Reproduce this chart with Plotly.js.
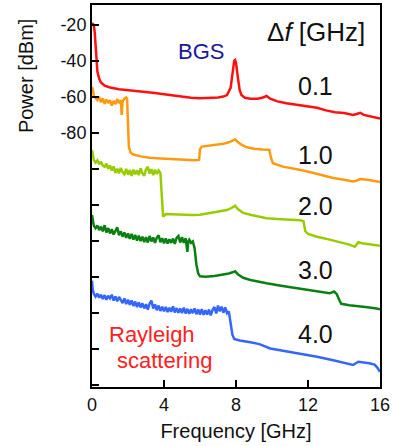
<!DOCTYPE html>
<html>
<head>
<meta charset="utf-8">
<script src="https://cdn.plot.ly/plotly-3.0.1.min.js"></script>
<style>html,body{margin:0;padding:0;background:#fff;}#chart{width:393px;height:446px;}</style>
</head>
<body>
<div id="chart"></div>
<script>
// Frequency [GHz] and Power [dBm] for each spacing Δf
const freq01 = [0,0.05,0.1,0.15,0.2,0.25,0.3,0.4,0.5,0.7,1.0,1.5,2.0,2.5,3.0,3.5,4.0,4.5,5.0,5.5,6.0,6.5,7.0,7.3,7.5,7.7,7.8,7.9,7.95,8.0,8.1,8.2,8.3,8.5,8.8,9.2,9.5,9.7,9.9,10.3,10.8,11.5,12,12.5,13,13.5,14,14.3,14.5,14.7,14.9,15.1,15.5,16];
const pow01 = [-19,-19.5,-20,-24,-33,-41,-46,-50,-52,-53.8,-54.8,-55.8,-56.2,-56.8,-57.3,-57.8,-58.5,-59.2,-60.2,-60.5,-60.8,-60.6,-60.3,-59.8,-59,-55,-47,-40,-39.5,-41,-49,-56,-59,-60.5,-61,-61,-60.3,-59.5,-61,-62.5,-63.5,-64.5,-65,-66,-67.5,-68.5,-69,-69.8,-70,-69.5,-68.8,-70,-71,-72];

const freq10 = [0,0.05,0.1,0.2,0.3,0.4,0.5,0.6,0.7,0.8,0.9,1.0,1.1,1.2,1.3,1.4,1.5,1.6,1.65,1.7,1.8,1.9,1.95,2.0,2.05,2.15,2.3,2.7,3.2,3.8,4.5,5.2,5.7,5.95,6.0,6.1,6.5,6.9,7.3,7.6,7.8,7.95,8.1,8.3,8.6,9.0,9.5,9.85,9.95,10.05,10.6,11.1,11.6,12.2,13.0,13.4,14.0,14.5,14.7,14.9,15.3,15.8,16];
const pow10 = [-54.5,-56,-59.5,-60.5,-61.8,-60,-63,-60.8,-63.8,-61.5,-63.4,-61.8,-64.8,-62.2,-64,-61.2,-63.5,-61.8,-70,-62.5,-61,-60.3,-61,-75,-88,-91,-92,-93,-93.8,-94.2,-94.6,-95,-95.2,-95,-89,-87.6,-87.2,-86.7,-86,-85.2,-84.3,-83.6,-85,-86.5,-88,-88.8,-89.2,-89.4,-94,-96.8,-98.7,-99.6,-100.6,-102,-104,-105,-106,-107,-106.5,-105.6,-106,-107,-107.2];

const freq20 = [0,0.05,0.1,0.2,0.3,0.4,0.5,0.6,0.7,0.8,0.9,1.0,1.1,1.2,1.3,1.4,1.5,1.6,1.7,1.8,1.9,2.0,2.1,2.2,2.3,2.4,2.5,2.6,2.7,2.8,2.9,3.0,3.1,3.2,3.3,3.4,3.5,3.6,3.7,3.8,3.85,3.9,3.95,4.1,4.5,5.0,5.5,6.0,6.5,7.0,7.5,7.8,7.95,8.1,8.4,8.8,9.3,9.7,10.3,11.0,11.55,11.75,11.85,12.0,12.5,13.2,13.8,14.3,14.6,14.8,15.0,15.4,15.8,16];
const pow20 = [-89.5,-93,-95,-96.5,-95.2,-97.4,-96,-98.2,-98.8,-97,-100,-98,-100.9,-98.6,-102.2,-99.8,-102.4,-99.4,-101.9,-103,-100,-103.2,-100.6,-103.9,-100.4,-102.9,-100.8,-103.4,-99.6,-102.4,-103.8,-100.2,-98.8,-102.6,-100.1,-103.4,-100.4,-102.8,-100.8,-102.2,-110,-122,-126.5,-125,-125.2,-125.4,-125.6,-125.4,-124.6,-123.8,-122.8,-121.4,-120.4,-122.2,-124.4,-125.4,-126.5,-127.3,-127.8,-128.1,-128.4,-129,-134.5,-136,-137.6,-139.2,-140.6,-142,-143.2,-140.6,-141.2,-141.8,-142.2,-142.6];

const freq30 = [0,0.05,0.1,0.2,0.3,0.4,0.5,0.6,0.7,0.8,0.9,1.0,1.1,1.2,1.3,1.4,1.5,1.6,1.7,1.8,1.9,2.0,2.1,2.2,2.3,2.4,2.5,2.6,2.7,2.8,2.9,3.0,3.1,3.2,3.3,3.4,3.5,3.6,3.7,3.8,3.9,4.0,4.1,4.2,4.3,4.4,4.5,4.6,4.7,4.8,4.9,5.0,5.1,5.2,5.3,5.35,5.4,5.5,5.6,5.7,5.8,5.9,6.0,6.3,6.8,7.2,7.6,7.85,7.95,8.1,8.4,8.8,9.3,9.7,10.5,11.5,12.5,13.2,13.45,13.6,13.75,13.85,14.3,14.8,15.3,15.8,16];
const pow30 = [-125.5,-130,-131.5,-132.9,-131.4,-133.9,-132,-134.6,-131.2,-135.2,-132.8,-135.8,-133.4,-136.4,-134.2,-132.4,-136.8,-134.6,-137.6,-135.2,-138.2,-135.8,-138.8,-136,-139.2,-136.6,-139.8,-137,-140,-137.6,-140.6,-137.8,-140.8,-137.2,-140.2,-138,-141,-138.2,-136.8,-140.6,-138.4,-141.2,-138.6,-141.4,-139,-141,-138.6,-141.6,-138.2,-137.2,-140.8,-137.8,-141,-138.4,-146,-140,-139.2,-141,-140.2,-144,-153,-158,-159.6,-159.8,-159.4,-158.8,-158,-157.2,-156.8,-158.4,-160.4,-161.6,-162.4,-163.4,-164.8,-166.2,-167.6,-169,-168,-169.5,-173,-174.8,-175.6,-176.4,-176.8,-177.4,-177.8];

const freq40 = [0,0.04,0.1,0.2,0.3,0.4,0.5,0.6,0.7,0.8,0.9,1.0,1.1,1.2,1.3,1.4,1.5,1.6,1.7,1.8,1.9,2.0,2.1,2.2,2.3,2.4,2.5,2.6,2.7,2.8,2.9,3.0,3.1,3.2,3.3,3.4,3.5,3.6,3.7,3.8,3.9,4.0,4.1,4.2,4.3,4.4,4.5,4.6,4.7,4.8,4.9,5.0,5.1,5.2,5.3,5.4,5.5,5.6,5.7,5.8,5.9,6.0,6.1,6.2,6.3,6.4,6.5,6.6,6.7,6.8,6.9,7.0,7.1,7.2,7.3,7.4,7.5,7.6,7.7,7.8,7.9,8.2,8.8,9.3,9.9,10.5,11.55,12.5,13.4,14.0,14.5,14.8,15.0,15.4,15.7,15.85,16];
const pow40 = [-162,-167,-169.2,-170.8,-169.2,-171.4,-169.8,-172.2,-170,-172.6,-170.4,-171.8,-169.8,-173,-170.8,-173.4,-171,-173.2,-174.4,-171.8,-175,-172.6,-175.4,-173,-176,-173.6,-176.6,-174,-176.8,-174.6,-177.4,-175,-178,-174.8,-173,-177.4,-175.2,-178.4,-175.8,-178.8,-176.4,-179,-176.6,-179.4,-177,-179.2,-176.2,-179.6,-177.2,-179.8,-177.4,-180,-177,-180.2,-177.6,-180.4,-177.8,-180,-177.4,-180.6,-178,-180.8,-177.8,-181,-178.4,-180.8,-178,-181.2,-178.2,-176.6,-180.2,-175.8,-179,-176.4,-179.8,-176.8,-180,-179,-185,-192,-194.4,-195.2,-196.2,-197.2,-199.6,-200.6,-202.4,-204.2,-206.2,-207.4,-208.8,-207,-207.2,-207.8,-208.6,-210.2,-212.6];

const seriesLabels = ["0.1","1.0","2.0","3.0","4.0"];
const seriesColors = ["#ff1010","#ff9a10","#99cc00","#0a8010","#3366ff"];
const xTickVals = [0,4,8,12,16];
const yTickVals = [-20,-40,-60,-80,-100,-120,-140,-160,-180,-200,-220];
const yTickText = ["-20","-40","-60","-80","","","","","","",""];

const xs = [freq01,freq10,freq20,freq30,freq40];
const ys = [pow01,pow10,pow20,pow30,pow40];
const labelY = [-53.9,-92.2,-120.6,-156.1,-191.7];

const font = "Arial, 'Liberation Sans', sans-serif";
const traces = xs.map((x,i)=>({
  x:x, y:ys[i], type:'scatter', mode:'lines',
  line:{color:seriesColors[i], width:2.5},
  name:seriesLabels[i], hoverinfo:'skip'
}));

const annotations = seriesLabels.map((t,i)=>({
  x:12.4, y:labelY[i], xref:'x', yref:'y', text:t, showarrow:false,
  font:{family:font, size:25, color:'#111'}
}));
annotations.push({x:12.42, y:-24.2, xref:'x', yref:'y', text:'Δ<i>f</i> [GHz]', showarrow:false, font:{family:font, size:26, color:'#111'}});
annotations.push({x:6.08, y:-35, xref:'x', yref:'y', text:'BGS', showarrow:false, font:{family:font, size:22, color:'#1a1a99'}});
annotations.push({x:3.36, y:-191.7, xref:'x', yref:'y', text:'Rayleigh', showarrow:false, font:{family:font, size:22, color:'#ff2020'}});
annotations.push({x:4.0, y:-206.4, xref:'x', yref:'y', text:'scattering', showarrow:false, font:{family:font, size:22, color:'#ff2020'}});
annotations.push({x:-0.229, y:0.814, xref:'paper', yref:'paper', xanchor:'center', yanchor:'middle', text:'Power [dBm]', showarrow:false, textangle:-90, font:{family:font, size:20, color:'#111'}});

const layout = {
  width:393, height:446,
  margin:{l:92, r:13, t:5, b:59},
  paper_bgcolor:'#fff', plot_bgcolor:'#fff',
  showlegend:false,
  font:{family:font, color:'#111'},
  xaxis:{
    range:[0,16], tickvals:xTickVals, ticks:'inside', ticklen:7, tickwidth:2, tickcolor:'#000',
    showline:true, linecolor:'#000', linewidth:2, mirror:true, showgrid:false, zeroline:false,
    tickfont:{family:font, size:18, color:'#111'},
    title:{text:'Frequency [GHz]', font:{family:font, size:20, color:'#111'}, standoff:10}
  },
  yaxis:{
    range:[-221,-9], tickvals:yTickVals, ticktext:yTickText, ticks:'inside', ticklen:7, tickwidth:2, tickcolor:'#000',
    showline:true, linecolor:'#000', linewidth:2, mirror:true, showgrid:false, zeroline:false,
    tickfont:{family:font, size:18, color:'#111'}
  },
  annotations:annotations
};
Plotly.newPlot('chart', traces, layout, {displayModeBar:false, staticPlot:true});
</script>
</body>
</html>
